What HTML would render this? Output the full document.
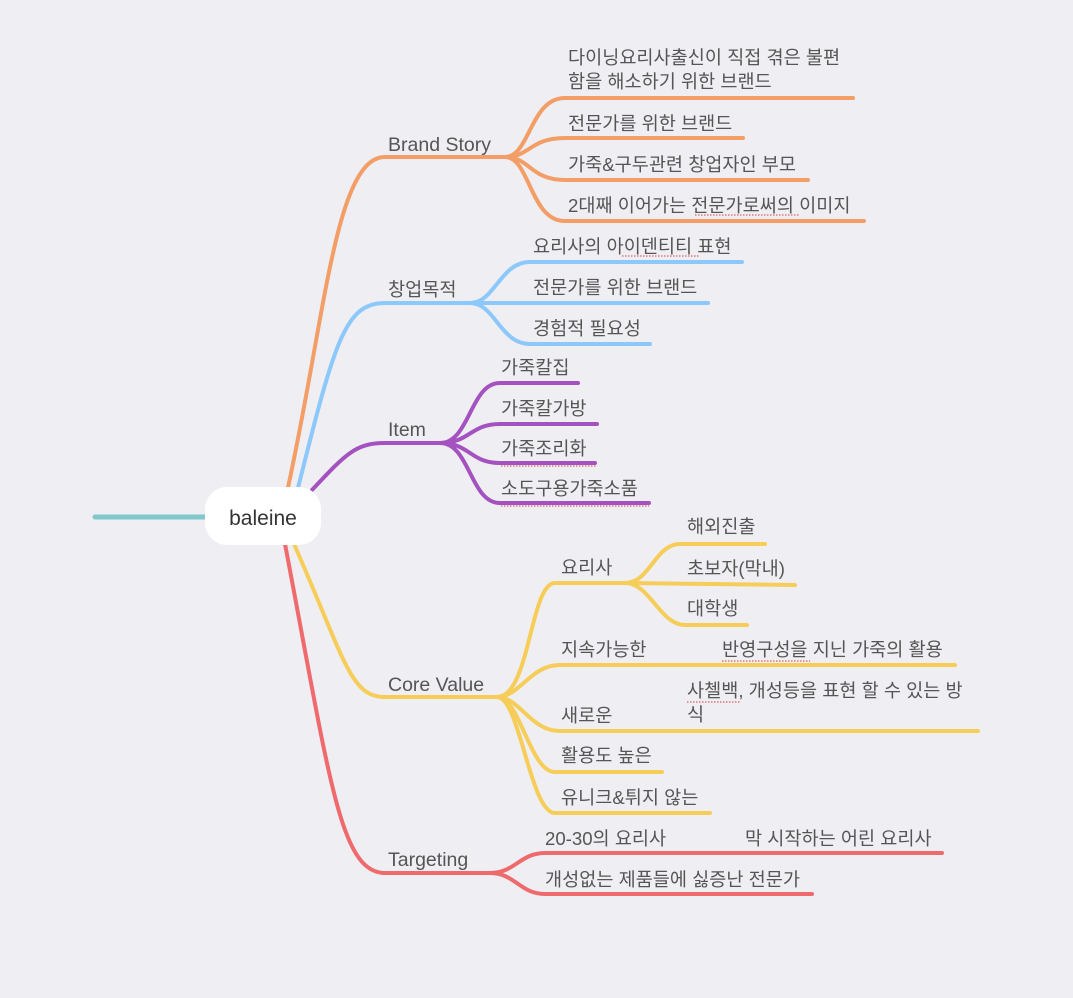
<!DOCTYPE html>
<html><head><meta charset="utf-8"><style>
html,body{margin:0;padding:0;background:#efeef3;}
svg{display:block}
text{font-family:"Liberation Sans","Noto Sans CJK KR",sans-serif;font-size:18.6px;fill:#555;}
.l{font-size:19.5px}
</style></head><body>
<svg width="1073" height="998" viewBox="0 0 1073 998" xmlns="http://www.w3.org/2000/svg">
<rect width="1073" height="998" fill="#efeef3"/>
<g fill="none" stroke-linecap="round" stroke-width="4">
<path d="M95,517 L206,517" stroke="#80c8cc" stroke-width="5"/>
<g stroke="#f29e66">
<path d="M287,492 C325,320 335,157 385,157 L505,157"/>
<path d="M505,157 C530,157 530,98 565,98 L853,98"/>
<path d="M505,157 C530,157 530,138 565,138 L743,138"/>
<path d="M505,157 C530,157 530,180 565,180 L808,180"/>
<path d="M505,157 C530,157 530,221 565,221 L864,221"/>
</g>
<g stroke="#8cc8fa">
<path d="M297,492 C335,340 345,303 385,303 L470,303"/>
<path d="M470,303 C495,303 500,262 530,262 L742,262"/>
<path d="M470,303 L708,303"/>
<path d="M470,303 C495,303 500,344 530,344 L650,344"/>
</g>
<g stroke="#a352c0">
<path d="M312,490 C345,455 355,443 385,443 L440,443"/>
<path d="M440,443 C470,443 470,383 500,383 L578,383"/>
<path d="M440,443 C470,443 470,424 500,424 L597,424"/>
<path d="M440,443 C470,443 470,463 500,463 L595,463"/>
<path d="M440,443 C470,443 470,503 500,503 L649,503"/>
</g>
<g stroke="#f6cd58">
<path d="M294,544 C345,660 350,697 385,697 L497,697"/>
<path d="M497,697 C530,697 530,583 555,583 L625,583"/>
<path d="M625,583 C650,583 655,544 680,544 L765,544"/>
<path d="M625,583 L795,585"/>
<path d="M625,583 C650,583 660,625 685,625 L747,625"/>
<path d="M497,697 C520,697 530,665 560,665 L955,665"/>
<path d="M497,697 C520,697 530,731 560,731 L978,731"/>
<path d="M497,697 C520,697 530,772 555,772 L662,772"/>
<path d="M497,697 C520,697 530,813 555,813 L710,813"/>
</g>
<g stroke="#ee6a6c">
<path d="M285,544 C330,780 340,873 385,873 L490,873"/>
<path d="M490,873 C515,873 520,853 545,853 L942,853"/>
<path d="M490,873 C515,873 520,894 545,894 L812,894"/>
</g>
</g>
<rect x="205" y="487" width="116" height="58" rx="22" fill="#fff"/>
<text x="263" y="525" text-anchor="middle" style="font-size:21px;fill:#333">baleine</text>
<text class="l" x="388" y="151">Brand Story</text>
<text x="388" y="296">창업목적</text>
<text class="l" x="388" y="436">Item</text>
<text class="l" x="388" y="691">Core Value</text>
<text class="l" x="388" y="866">Targeting</text>

<text x="568" y="64">다이닝요리사출신이 직접 겪은 불편</text>
<text x="568" y="88">함을 해소하기 위한 브랜드</text>
<text x="568" y="130">전문가를 위한 브랜드</text>
<text x="568" y="171">가죽&amp;구두관련 창업자인 부모</text>
<text x="568" y="212">2대째 이어가는 전문가로써의 이미지</text>

<text x="533" y="253">요리사의 아이덴티티 표현</text>
<text x="533" y="294">전문가를 위한 브랜드</text>
<text x="533" y="335">경험적 필요성</text>

<text x="501" y="374">가죽칼집</text>
<text x="501" y="415">가죽칼가방</text>
<text x="501" y="455">가죽조리화</text>
<text x="501" y="495">소도구용가죽소품</text>

<text x="561" y="574">요리사</text>
<text x="687" y="533">해외진출</text>
<text x="687" y="575">초보자(막내)</text>
<text x="687" y="615">대학생</text>
<text x="561" y="656">지속가능한</text>
<text x="722" y="656">반영구성을 지닌 가죽의 활용</text>
<text x="561" y="722">새로운</text>
<text x="687" y="697">사첼백, 개성등을 표현 할 수 있는 방</text>
<text x="687" y="721">식</text>
<text x="561" y="762">활용도 높은</text>
<text x="561" y="804">유니크&amp;튀지 않는</text>

<text x="545" y="845">20-30의 요리사</text>
<text x="745" y="845">막 시작하는 어린 요리사</text>
<text x="545" y="886">개성없는 제품들에 싫증난 전문가</text>

<g stroke="#e06060" stroke-width="1.3" stroke-dasharray="1.5 1.5" fill="none">
<path d="M695,215 L800,215"/>
<path d="M622,256 L700,256"/>
<path d="M501,466 L597,466"/>
<path d="M501,506 L649,506"/>
<path d="M722,661 L810,661"/>
<path d="M687,702 L740,702"/>
</g>
</svg>
</body></html>
